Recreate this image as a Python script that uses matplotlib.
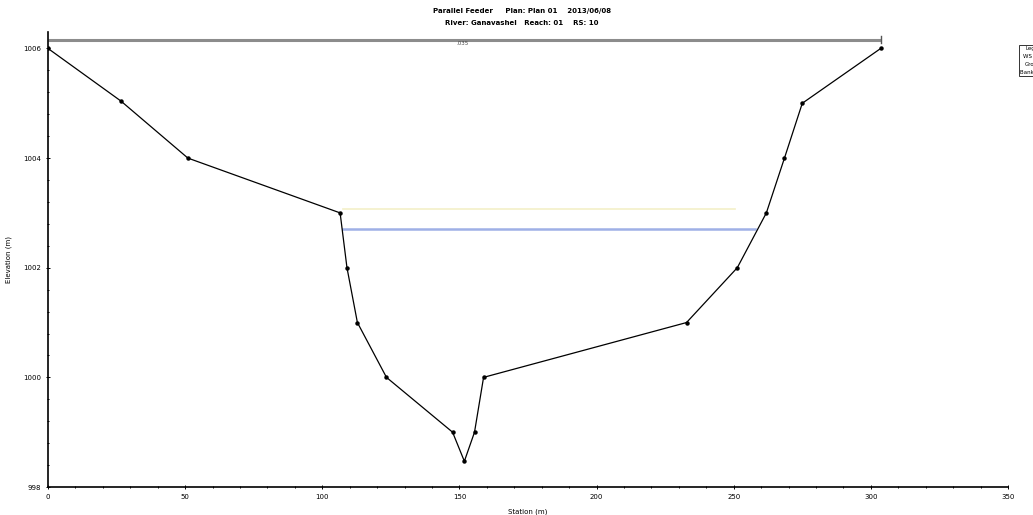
import matplotlib
matplotlib.use("Agg")
import matplotlib.pyplot as plt
from matplotlib.lines import Line2D

# === 断面数据 ===
station = [0, 26.6, 51, 106.5, 109, 112.8, 123.4, 147.5, 151.8, 155.5, 158.8,
           232.8, 251.3, 261.9, 268.5, 275, 303.6]
ground = [1006.0, 1005.04, 1004.0, 1003.0, 1002.0, 1001.0, 1000.0, 999.0, 998.47,
          999.0, 1000.0, 1001.0, 1002.0, 1003.0, 1004.0, 1005.0, 1006.0]

ws_sta = [107.6, 257.8]
ws_elev = 1002.71
eg_sta = [107.6, 250.5]
eg_elev = 1003.07

top_sta = [0, 303.6]
top_elev = 1006.16
n_label = ".035"

title1 = "Parallel Feeder     Plan: Plan 01    2013/06/08"
title2 = "River: Ganavashel   Reach: 01    RS: 10"
legend_labels = ["Legend", "WS PF 1", "Ground", "Bank Sta"]

fig = plt.figure(figsize=(10.33, 5.15), dpi=100)
ax = fig.add_axes([48 / 1033, 1 - 487 / 515, (1008 - 48) / 1033, (487 - 32) / 515])

ax.plot(top_sta, [top_elev, top_elev], color="#8c8c8c", lw=2.2, solid_capstyle="butt")
ax.plot([top_sta[1], top_sta[1]], [top_elev - 0.06, top_elev + 0.06], color="#555555", lw=1)
ax.text(151, top_elev - 0.03, n_label, fontsize=4, ha="center", va="top", color="#444444")

ax.plot(eg_sta, [eg_elev, eg_elev], color="#f3f0c8", lw=1.2)
ax.plot(ws_sta, [ws_elev, ws_elev], color="#9fb0e6", lw=1.8)
ax.plot(station, ground, color="black", lw=0.9, marker="o", ms=2.2)

ax.set_xlim(0, 350)
ax.set_ylim(998, 1006.3)
ax.set_xticks(range(0, 351, 50))
ax.set_xticks(range(0, 351, 10), minor=True)
ax.set_yticks([998, 1000, 1002, 1004, 1006])
ax.set_yticks([998 + 0.4 * i for i in range(21)], minor=True)
ax.tick_params(which="both", direction="inout", labelsize=5, length=3, width=0.7)
ax.tick_params(which="minor", length=2)
for s in ["top", "right"]:
    ax.spines[s].set_visible(False)
for s in ["left", "bottom"]:
    ax.spines[s].set_linewidth(1.2)

ax.set_xlabel("Station (m)", fontsize=5, labelpad=6)
ax.set_ylabel("Elevation (m)", fontsize=5, labelpad=8)

fig.text(0.505, 0.985, title1, fontsize=5, ha="center", va="top", weight="bold")
fig.text(0.505, 0.962, title2, fontsize=5, ha="center", va="top", weight="bold")

handles = [Line2D([], [], color="none"),
           Line2D([], [], color="#9fb0e6", lw=1.5),
           Line2D([], [], color="black", lw=0.9, marker="o", ms=2),
           Line2D([], [], color="red", lw=0, marker="o", ms=2)]
leg = fig.legend(handles, legend_labels, loc="upper left",
                 bbox_to_anchor=(1016 / 1033, 1 - 42 / 515), fontsize=4,
                 frameon=True, fancybox=False, edgecolor="black", markerfirst=False,
                 handlelength=1.5, handletextpad=0.4, borderpad=0.3, labelspacing=0.5)
leg.get_frame().set_linewidth(0.7)

fig.savefig("out.png", dpi=100)
